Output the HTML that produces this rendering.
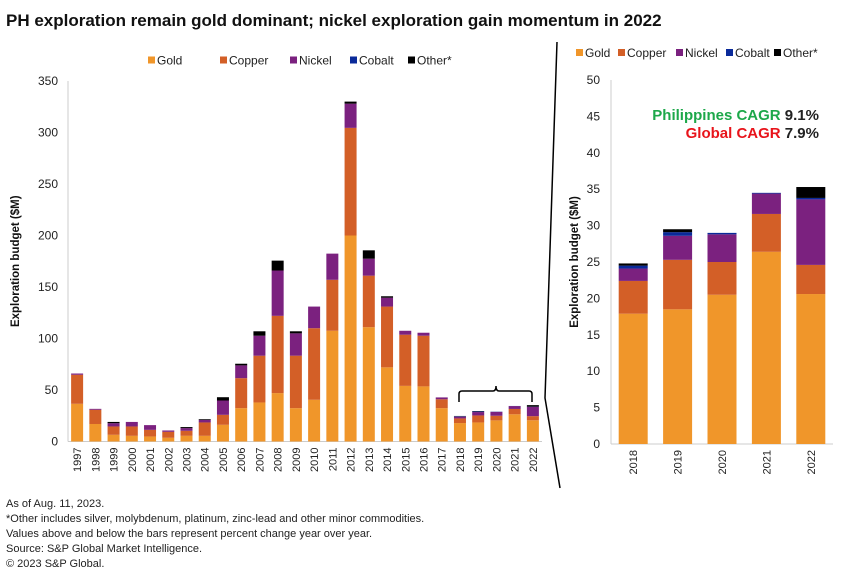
<!DOCTYPE html>
<html><head><meta charset="utf-8"><style>
body{margin:0;background:#fff;font-family:"Liberation Sans",sans-serif;}
svg text{font-family:"Liberation Sans",sans-serif;}
</style></head><body>
<svg id="c" width="850" height="582" xmlns="http://www.w3.org/2000/svg">
<text x="6" y="26" font-size="17" font-weight="bold" fill="#111">PH exploration remain gold dominant; nickel exploration gain momentum in 2022</text>
<g id="left"></g>
<g id="right"></g>
<path d="M557,42 L545,398 L560,488" stroke="#000" stroke-width="1.5" fill="none"/>
<path d="M459,402 L459,394 Q459,391 462,391 L493,391 Q496,391 496,386 Q496,391 499,391 L529,391 Q532,391 532,394 L532,402" stroke="#000" stroke-width="1.5" fill="none"/>
<g font-size="11" fill="#222">
<text x="6" y="507">As of Aug. 11, 2023.</text>
<text x="6" y="522">*Other includes silver, molybdenum, platinum, zinc-lead and other minor commodities.</text>
<text x="6" y="537">Values above and below the bars represent percent change year over year.</text>
<text x="6" y="552">Source: S&amp;P Global Market Intelligence.</text>
<text x="6" y="567">© 2023 S&amp;P Global.</text>
</g>
</svg>
<script>
const years=["1997","1998","1999","2000","2001","2002","2003","2004","2005","2006","2007","2008","2009","2010","2011","2012","2013","2014","2015","2016","2017","2018","2019","2020","2021","2022"];
const gold=[36.6,17,6.5,5.5,4.9,3.6,5.5,5.5,16.2,32.4,37.9,47,32.4,40.5,107.5,200,111,72,54,53.5,32.4,17.9,18.5,20.5,26.4,20.6];
const copper=[28.2,13.8,8.1,9.1,6.4,5.8,4.9,13,9.7,29.1,45.4,75,50.9,69.5,49.5,104.5,50,59,49.7,49.2,8.6,4.5,6.8,4.5,5.2,4.0];
const nickel=[1.2,0.9,3.2,4.4,4.6,1.3,2.6,2.5,13.9,12.4,19.4,44,21.7,21,25.4,23.5,16.5,8.6,3.8,2.9,1.8,1.7,3.3,3.8,2.8,9.0];
const cobalt=[0,0,0,0,0,0,0,0,0,0,0,0,0,0,0,0,0,0,0,0,0,0.4,0.5,0.2,0.1,0.2];
const other=[0,0,1.2,0,0,0,1,0.7,3.2,1.6,4.3,9.6,2,0,0,2,8.1,1.4,0,0,0,0.3,0.4,0,0,1.5];
const leftTicks=[0,50,100,150,200,250,300,350];
const rightYears=["2018","2019","2020","2021","2022"];
const rightTicks=[0,5,10,15,20,25,30,35,40,45,50];
const seriesNames=["Gold","Copper","Nickel","Cobalt","Other*"];
const colors=["#F0962A","#D35F27","#7B217F","#0A2A9A","#000000"];
const NS="http://www.w3.org/2000/svg";
function mk(p,tag,a,txt){const e=document.createElementNS(NS,tag);for(const k in a)e.setAttribute(k,a[k]);if(txt!=null)e.textContent=txt;p.appendChild(e);return e;}
const series=[gold,copper,nickel,cobalt,other];

function drawChart(g,idxs,labels,ticks,x0,x1,y0,y1,vmax,bw,tickX,titleX,legendX,legendGap){
  const ys=v=>y0-(v/vmax)*(y0-y1);
  const step=(x1-x0)/labels.length;
  const xc=i=>x0+step*(i+0.5);
  mk(g,"line",{x1:x0,y1:y1,x2:x0,y2:y0,stroke:"#ccc"});
  mk(g,"line",{x1:x0,y1:y0,x2:x1,y2:y0,stroke:"#ccc"});
  ticks.forEach(t=>{const e=mk(g,"text",{x:tickX,y:ys(t)+4,"text-anchor":"end","font-size":12,fill:"#222"},t);
    
    });
  labels.forEach((lab,i)=>{
    const idx=idxs[i];let acc=0;
    series.forEach((s,k)=>{const v=s[idx];if(v<=0)return;
      const r=mk(g,"rect",{x:xc(i)-bw/2,y:ys(acc+v),width:bw,height:ys(acc)-ys(acc+v),fill:colors[k]});
      
      
      acc+=v;});
    const t=mk(g,"text",{x:0,y:0,transform:`translate(${xc(i)+4},${y0+6}) rotate(-90)`,"text-anchor":"end","font-size":11,fill:"#222"},lab);
    
    
  });
  const yt=mk(g,"text",{transform:`translate(${titleX},${(y0+y1)/2}) rotate(-90)`,"text-anchor":"middle","font-size":11.5,"font-weight":"bold",fill:"#111"},"Exploration budget ($M)");
  
  
  let lx=legendX[0];
  seriesNames.forEach((n,k)=>{
    const le=mk(g,"g",{});
    
    
    mk(le,"rect",{x:lx,y:legendX[1]-8,width:7,height:7,fill:colors[k]});
    mk(le,"text",{x:lx+9,y:legendX[1],"font-size":12,fill:"#222"},n);
    lx+=legendGap[k];
  });
}
drawChart(document.getElementById('left'),years.map((_,i)=>i),years,leftTicks,68,542,441.5,81,350,12,58,19,[148,64.5],[72,70,60,58,60]);
drawChart(document.getElementById('right'),[21,22,23,24,25],rightYears,rightTicks,611,833,444,80,50,29,600,578,[576,57],[42,58,50,48,50]);
const r=document.getElementById('right');
const c1=mk(r,"text",{x:819,y:120,"text-anchor":"end","font-size":15,"font-weight":"bold"});


mk(c1,"tspan",{fill:"#1DA84A"},"Philippines CAGR ");mk(c1,"tspan",{fill:"#222"},"9.1%");
const c2=mk(r,"text",{x:819,y:138,"text-anchor":"end","font-size":15,"font-weight":"bold"});


mk(c2,"tspan",{fill:"#E8141B"},"Global CAGR ");mk(c2,"tspan",{fill:"#222"},"7.9%");
</script>
</body></html>
